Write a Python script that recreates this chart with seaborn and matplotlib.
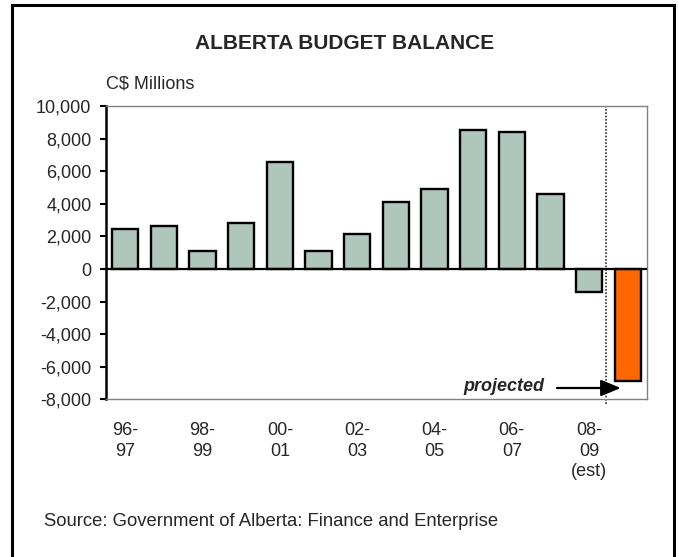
import matplotlib
matplotlib.use("Agg")
import matplotlib.pyplot as plt
from matplotlib.patches import Rectangle
from matplotlib.ticker import FuncFormatter, MultipleLocator
import pandas as pd
import seaborn as sns

# Fiscal years and budget balance (C$ millions)
fiscal_years = ["96-97", "97-98", "98-99", "99-00", "00-01", "01-02", "02-03",
                "03-04", "04-05", "05-06", "06-07", "07-08", "08-09", "09-10"]
balances = [2480, 2660, 1090, 2800, 6570, 1080, 2130,
            4140, 4890, 8550, 8400, 4580, -1420, -6870]
status = ["actual"] * 13 + ["projected"]
tick_labels = ["96-\n97", "", "98-\n99", "", "00-\n01", "", "02-\n03",
               "", "04-\n05", "", "06-\n07", "", "08-\n09\n(est)", ""]

title = "ALBERTA BUDGET BALANCE"
unit_label = "C$ Millions"
source_note = "Source: Government of Alberta: Finance and Enterprise"
arrow_label = "projected"

bar_colors = {"actual": "#AEC6BC", "projected": "#FF6600"}

sns.set_style("white")
plt.rcParams["font.family"] = ["Liberation Sans", "DejaVu Sans"]

df = pd.DataFrame({"year": fiscal_years, "balance": balances, "status": status})

fig = plt.figure(figsize=(6.79, 5.57), dpi=100)
ax = fig.add_axes([0.1561, 0.2829, 0.7968, 0.5268])

sns.barplot(data=df, x="year", y="balance", hue="status", palette=bar_colors,
            dodge=False, legend=False, width=0.68, edgecolor="black",
            linewidth=1.7, saturation=1, ax=ax)

ax.set_ylim(-8000, 10000)
ax.set_xlim(-0.5, len(fiscal_years) - 0.5)
ax.yaxis.set_major_locator(MultipleLocator(2000))
ax.yaxis.set_major_formatter(FuncFormatter(lambda v, _: f"{int(round(v)):,}"))
ax.set_xticks(range(len(fiscal_years)))
ax.set_xticklabels(tick_labels, linespacing=1.25)
ax.set_xlabel("")
ax.set_ylabel("")

ax.tick_params(axis="y", which="major", length=4.5, width=1.5, color="black",
               pad=6, labelsize=13, direction="out", left=True)
ax.tick_params(axis="x", which="major", length=0, pad=16.5, labelsize=13)

for side in ["top", "right", "bottom"]:
    ax.spines[side].set_color("#808080")
    ax.spines[side].set_linewidth(1.0)
ax.spines["left"].set_color("black")
ax.spines["left"].set_linewidth(1.8)

# zero baseline
ax.axhline(0, color="black", lw=1.6, zorder=3)

# separator between estimates and projection
ax.axvline(12.45, ymin=-0.015, ymax=1.0, color="#303030", lw=1.2,
           linestyle=(0, (1, 1)), clip_on=False, zorder=1)

# projection arrow and label
ax.annotate("", xy=(12.82, -7300), xytext=(11.17, -7300),
            arrowprops=dict(arrowstyle="-|>,head_length=1.2,head_width=0.5",
                            color="black", lw=1.6, shrinkA=0, shrinkB=0))
ax.text(10.85, -7230, arrow_label, ha="right", va="center", fontsize=13,
        fontweight="bold", fontstyle="italic")

fig.text(0.507, 0.922, title, ha="center", va="center", fontsize=15,
         fontweight="bold")
fig.text(0.1561, 0.849, unit_label, ha="left", va="center", fontsize=13)
fig.text(0.065, 0.0646, source_note, ha="left", va="center", fontsize=13.3)

# outer frame
fig.patches.append(Rectangle((12 / 679, -0.05), (674 - 12) / 679, 1.05 - 5 / 557,
                             transform=fig.transFigure, fill=False,
                             edgecolor="black", lw=2.2, zorder=10))

fig.savefig("out.png", dpi=100, facecolor="white")
